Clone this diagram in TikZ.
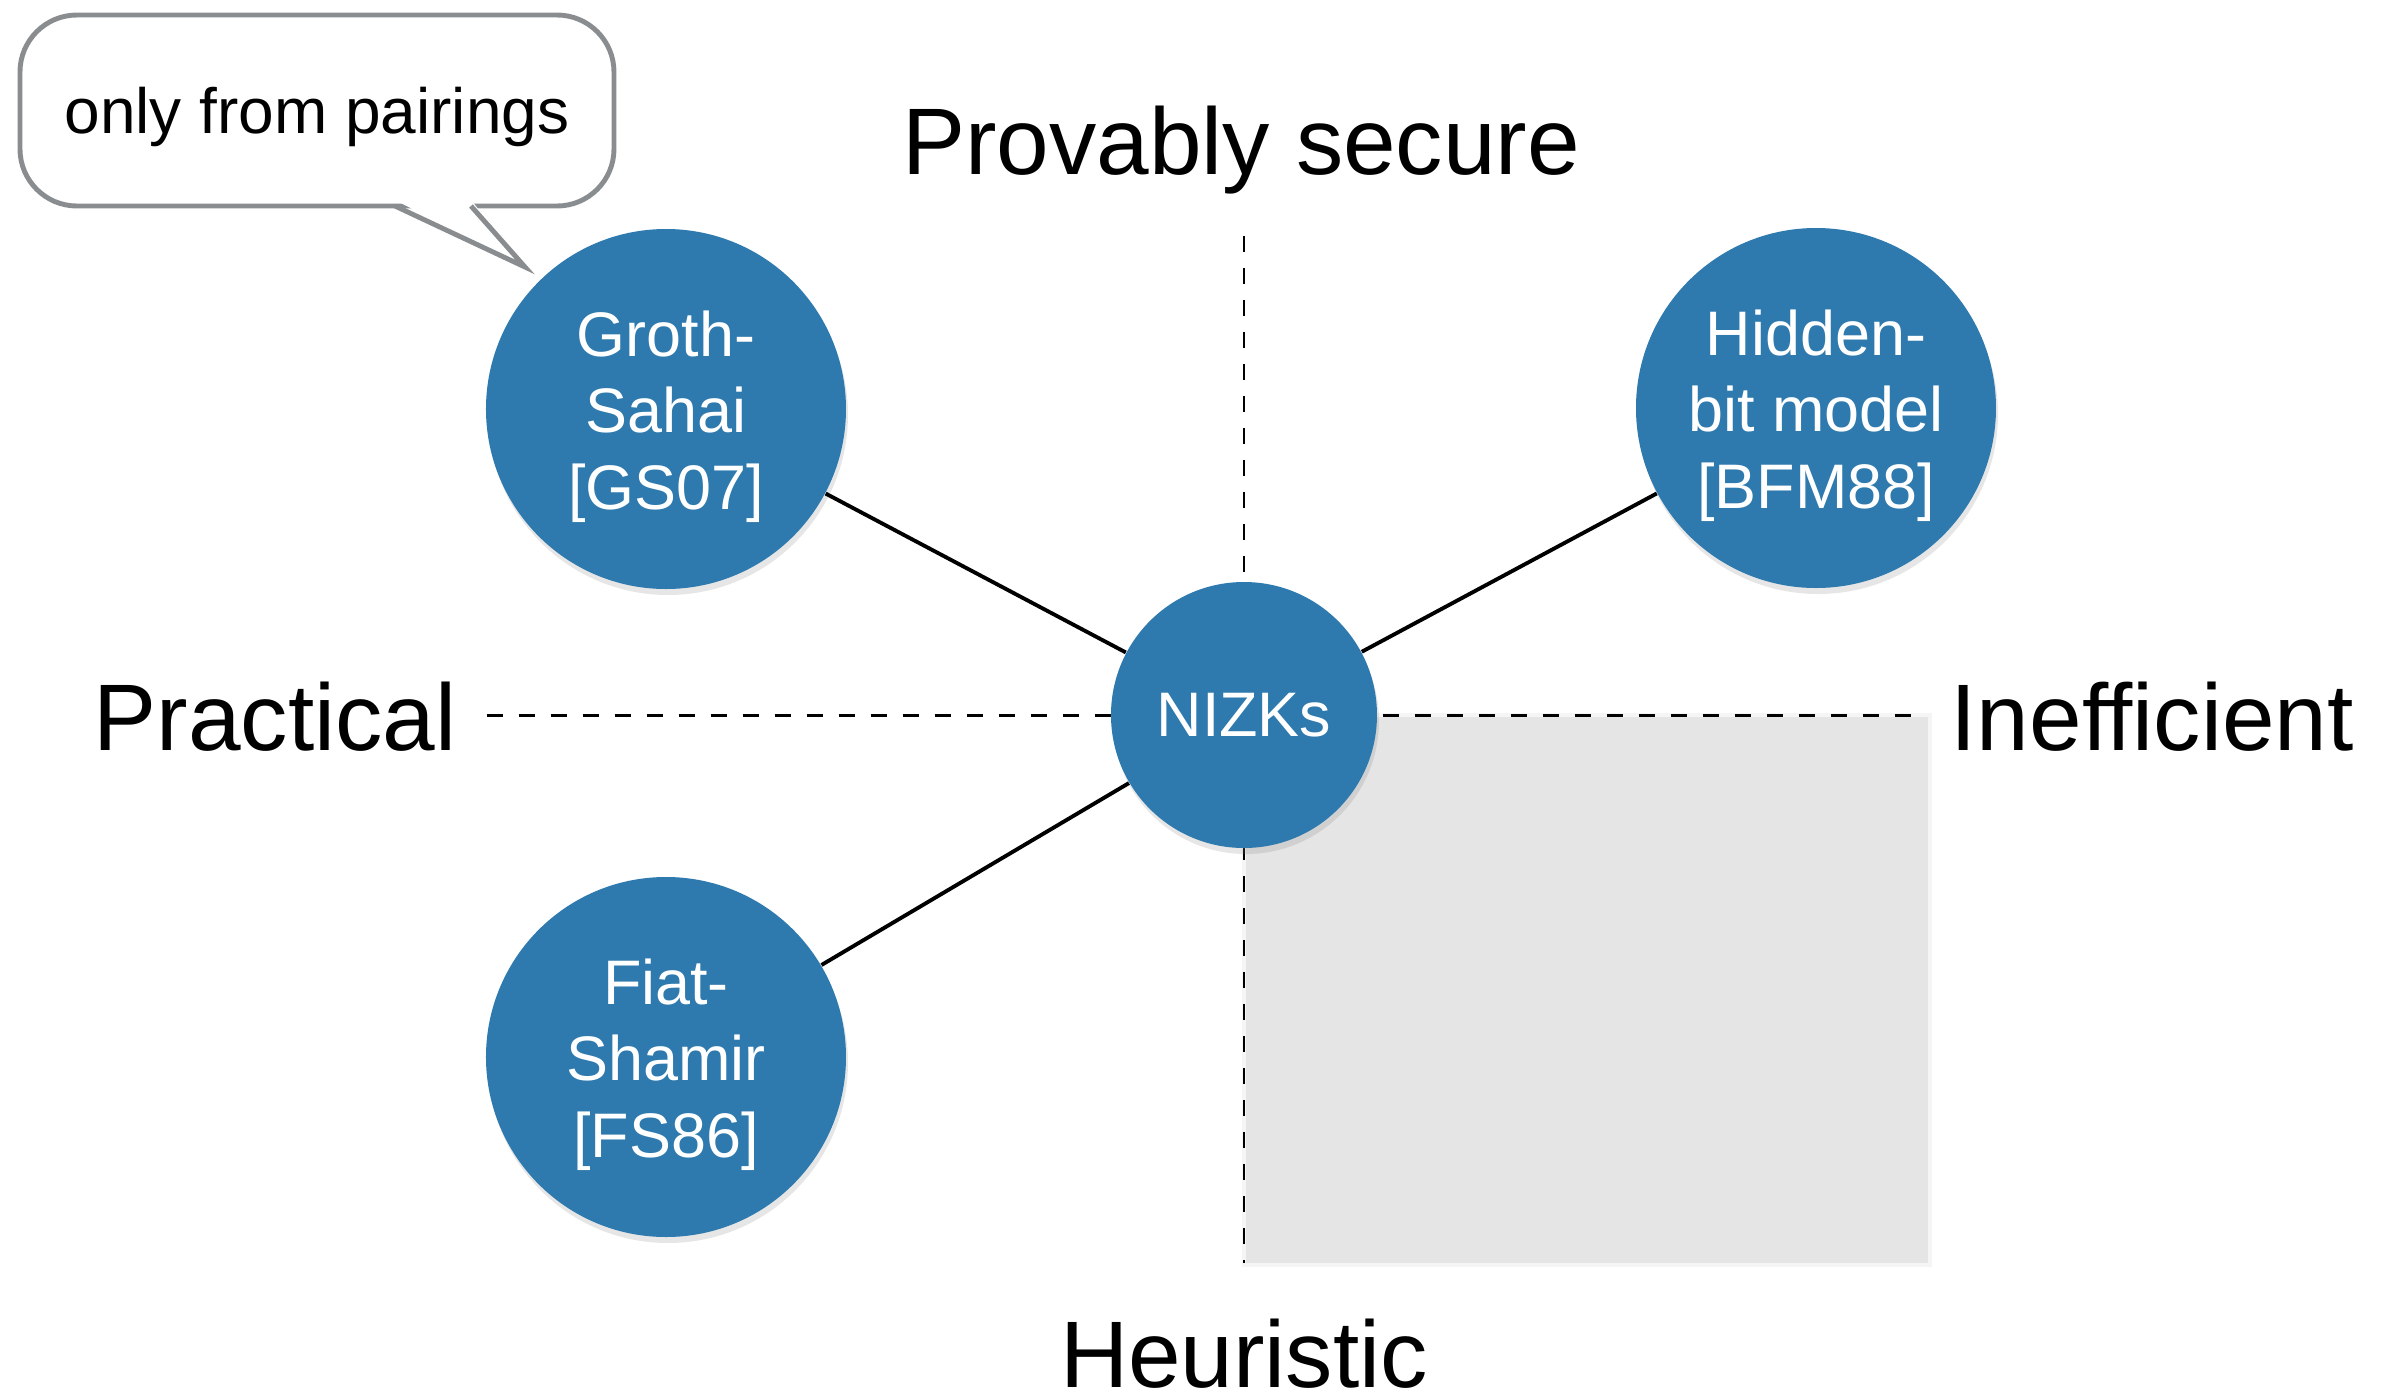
\documentclass[tikz,border=0pt]{standalone}
\usepackage{fontspec}
\setmainfont{Liberation Sans}
\usepackage{xcolor}
\usepackage{tikz}
\usetikzlibrary{shadows}

\definecolor{nizkblue}{RGB}{46,122,174}
\definecolor{notegray}{RGB}{138,141,144}
\newcommand{\lift}{\rule{0pt}{0.61cm}}

\begin{document}
\begin{tikzpicture}[
    disc/.style={circle, fill=nizkblue, text=white, inner sep=0pt, align=center, font=\fontsize{17.9}{21.9}\selectfont, drop shadow={opacity=0.2, shadow xshift=0.02cm, shadow yshift=-0.06cm}},
    bubble/.style={disc, minimum size=3.6cm},
    hub/.style={disc, minimum size=2.66cm},
    link/.style={line width=1.1pt},
    axisline/.style={line width=0.85pt, dash pattern=on 0.16cm off 0.16cm},
    quadrant/.style={fill=gray!20, draw=gray!8, line width=1.4pt},
    axislabel/.style={inner sep=0pt, font=\fontsize{26.9}{32}\selectfont},
    note/.style={rectangle, rounded corners=0.57cm, draw=notegray, line width=1.4pt, fill=white, minimum width=5.94cm, minimum height=1.91cm, inner sep=0pt, text height=0.45cm, text depth=0pt, font=\fontsize{18.2}{22}\selectfont}
]
\useasboundingbox (-12.44,-6.84) rectangle (11.42,7.15);

% inefficient + heuristic corner
\draw[quadrant] (0,0) rectangle (6.86,-5.5);

% axes
\coordinate (west) at (-7.57,0);
\coordinate (east) at (6.83,0);
\coordinate (north) at (0,4.79);
\coordinate (south) at (0,-5.48);
\draw[axisline] (west) -- (east);
\draw[axisline] (north) -- (south);

\node[axislabel, anchor=base] (secure) at (-0.03,5.41) {Provably secure};
\node[axislabel, anchor=base east] (practical) at (-7.87,-0.35) {Practical};
\node[axislabel, anchor=base west] (inefficient) at (7.06,-0.35) {Inefficient};
\node[axislabel, anchor=base] (heuristic) at (0,-6.72) {Heuristic};

% constructions
\node[hub] (nizk) at (0,0) {NIZKs};
\node[bubble] (gs) at (-5.78,3.06) {\lift Groth-\\Sahai\\{[GS07]}};
\node[bubble] (hb) at (5.72,3.07) {\lift Hidden-\\bit model\\{[BFM88]}};
\node[bubble] (fs) at (-5.78,-3.42) {\lift Fiat-\\Shamir\\{[FS86]}};

\draw[link] (gs) -- (nizk);
\draw[link] (hb) -- (nizk);
\draw[link] (fs) -- (nizk);

% speech bubble
\node[note] (remark) at (-9.27,6.045) {only from pairings};
\coordinate (tailL) at (-8.49,5.09);
\coordinate (tailR) at (-7.73,5.09);
\coordinate (tip) at (-7.19,4.48);
\fill[white] ([yshift=0.06cm]tailL) -- ([yshift=0.06cm]tailR) -- (tip) -- cycle;
\draw[notegray, line width=1.4pt] (tailL) -- (tip) -- (tailR);
\end{tikzpicture}
\end{document}
